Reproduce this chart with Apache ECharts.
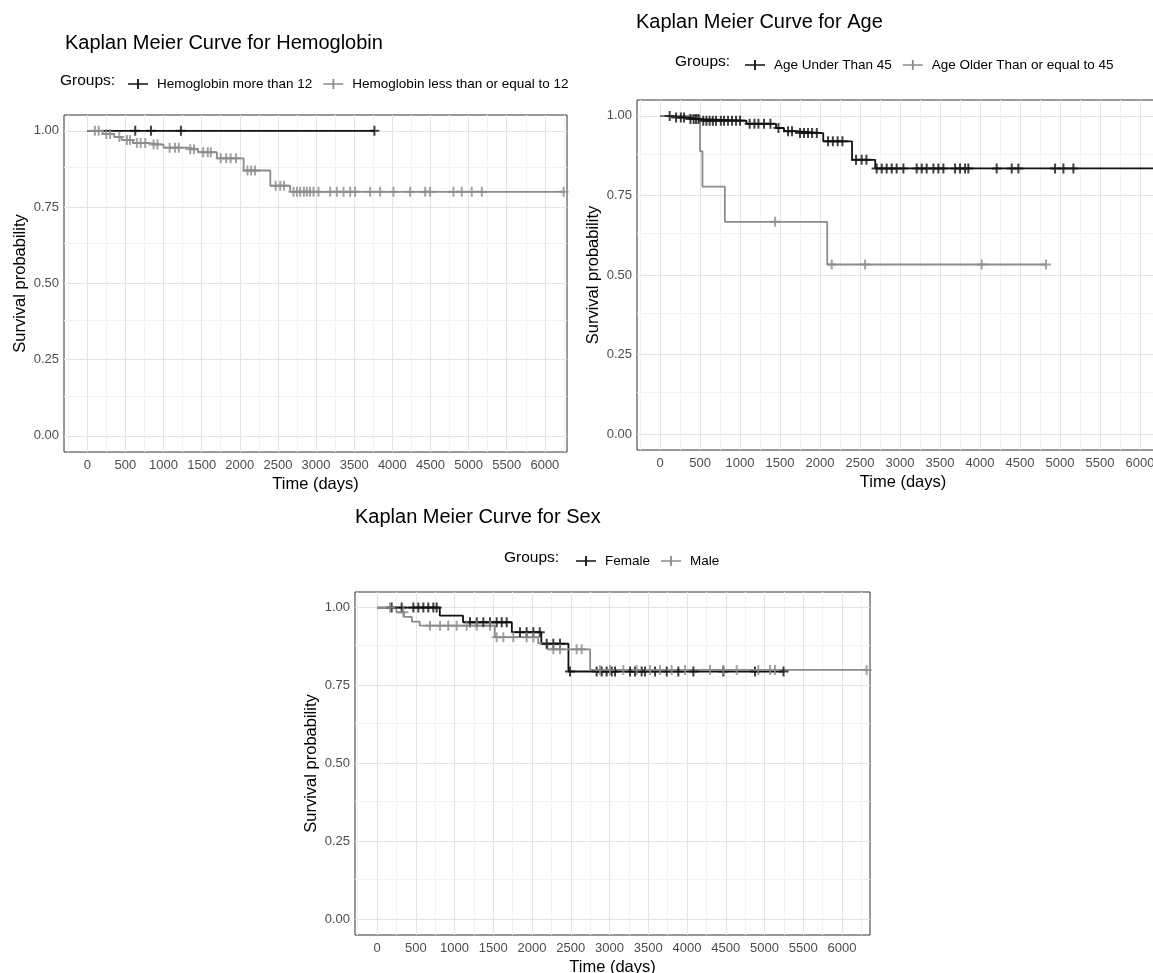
<!DOCTYPE html>
<html><head><meta charset="utf-8">
<script src="https://cdn.jsdelivr.net/npm/echarts@6/dist/echarts.min.js"></script>
<style>html,body{margin:0;padding:0;background:#fff}#c{width:1153px;height:973px}</style>
</head><body><div id="c"></div>
<script>
// ---- tick labels ----
const xTicks = [0,500,1000,1500,2000,2500,3000,3500,4000,4500,5000,5500,6000];
const xMinorTicks = [-250,250,750,1250,1750,2250,2750,3250,3750,4250,4750,5250,5750,6250];
const yTicks = [0,0.25,0.5,0.75,1];
const yMinorTicks = [0.125,0.375,0.625,0.875];

// ---- Hemoglobin ----
const hbHighName = 'Hemoglobin more than 12';
const hbHighTimes = [0];
const hbHighSurv = [1.0];
const hbHighEnd = 3765;
const hbHighCensor = [629, 835, 1228, 3765];

const hbLowName = 'Hemoglobin less than or equal to 12';
const hbLowTimes = [0, 200, 350, 450, 600, 800, 1000, 1300, 1450, 1700, 2050, 2400, 2660];
const hbLowSurv = [1.0, 0.99, 0.98, 0.97, 0.96, 0.955, 0.945, 0.94, 0.93, 0.91, 0.87, 0.82, 0.80];
const hbLowEnd = 6245;
const hbLowCensor = [100,150,250,300,420,520,560,650,700,760,870,920,1080,1150,1200,1350,1400,1520,1580,1620,1750,1820,1880,1950,2100,2150,2200,2470,2530,2580,2704,2750,2791,2840,2879,2920,2966,3032,3185,3272,3360,3447,3512,3709,3840,4015,4233,4430,4495,4801,4910,5041,5173,6245];

// ---- Age ----
const ageYoungName = 'Age Under Than 45';
const ageYoungTimes = [0, 150, 350, 500, 1080, 1450, 1550, 1700, 2040, 2400, 2690];
const ageYoungSurv = [1.0, 0.995, 0.99, 0.985, 0.975, 0.962, 0.952, 0.946, 0.92, 0.862, 0.835];
const ageYoungEnd = 6250;
const ageYoungCensor = [120,200,260,300,380,420,450,480,540,580,620,660,700,760,800,850,900,950,1000,1120,1180,1230,1300,1380,1480,1600,1650,1750,1800,1850,1900,1960,2100,2160,2220,2280,2450,2520,2580,2708,2771,2833,2896,2958,3042,3208,3271,3333,3417,3479,3542,3688,3750,3813,3854,4208,4396,4479,4938,5042,5167,6250];

const ageOldName = 'Age Older Than or equal to 45';
const ageOldTimes = [0, 500, 530, 810, 2090];
const ageOldSurv = [1.0, 0.889, 0.778, 0.667, 0.533];
const ageOldEnd = 4825;
const ageOldCensor = [1438, 2146, 2563, 4021, 4825];

// ---- Sex ----
const femaleName = 'Female';
const femaleTimes = [0, 810, 1110, 1740, 2120, 2470];
const femaleSurv = [1.0, 0.974, 0.953, 0.921, 0.884, 0.795];
const femaleEnd = 5245;
const femaleCensor = [189,318,469,533,598,662,727,770,1200,1286,1372,1458,1544,1609,1673,1845,1931,2017,2100,2189,2275,2361,2490,2834,2899,2963,3028,3071,3265,3329,3415,3458,3587,3738,3888,4082,4469,4877,5245];

const maleName = 'Male';
const maleTimes = [0, 250, 350, 450, 550, 1520, 2080, 2200, 2750];
const maleSurv = [1.0, 0.985, 0.97, 0.955, 0.942, 0.905, 0.885, 0.866, 0.80];
const maleEnd = 6318;
const maleCensor = [168,340,684,813,920,1028,1157,1286,1458,1544,1630,1759,1931,2017,2275,2361,2576,2641,2877,3006,3178,3350,3523,3652,3802,3974,4297,4469,4641,4920,5071,5135,6318];

// ---- styling ----
const FONT = 'Liberation Sans, Arial, sans-serif';
const BLACK = '#111111';
const GRAY = '#8c8c8c';
const PLUS = 'path://M-5,-1L-1,-1L-1,-5L1,-5L1,-1L5,-1L5,1L1,1L1,5L-1,5L-1,1L-5,1Z';
const KEY = 'path://M0,4.2L9.1,4.2L9.1,0L10.9,0L10.9,4.2L20,4.2L20,5.8L10.9,5.8L10.9,10L9.1,10L9.1,5.8L0,5.8Z';

const panels = [
  {grid:{left:64, top:115, width:503, height:337}, xMin:-305, xMax:6290, yMin:-0.053, yMax:1.052,
   title:'Kaplan Meier Curve for Hemoglobin', tx:65, ty:43, gx:60, gy:81, legendLeft:123,
   curves:[[hbHighName,hbHighTimes,hbHighSurv,hbHighEnd,hbHighCensor,BLACK],[hbLowName,hbLowTimes,hbLowSurv,hbLowEnd,hbLowCensor,GRAY]]},
  {grid:{left:637, top:100, width:532, height:350}, xMin:-288, xMax:6362, yMin:-0.05, yMax:1.05,
   title:'Kaplan Meier Curve for Age', tx:636, ty:22, gx:675, gy:62, legendLeft:740,
   curves:[[ageYoungName,ageYoungTimes,ageYoungSurv,ageYoungEnd,ageYoungCensor,BLACK],[ageOldName,ageOldTimes,ageOldSurv,ageOldEnd,ageOldCensor,GRAY]]},
  {grid:{left:355, top:592, width:515, height:343}, xMin:-284, xMax:6361, yMin:-0.05, yMax:1.05,
   title:'Kaplan Meier Curve for Sex', tx:355, ty:517, gx:504, gy:558, legendLeft:571,
   curves:[[femaleName,femaleTimes,femaleSurv,femaleEnd,femaleCensor,BLACK],[maleName,maleTimes,maleSurv,maleEnd,maleCensor,GRAY]]}
];

function survAt(times, surv, t){ let s = surv[0]; for(let i=0;i<times.length;i++){ if(times[i] <= t) s = surv[i]; } return s; }

const grids=[], xAxes=[], yAxes=[], series=[], legends=[], graphics=[];
panels.forEach((p,g)=>{
  grids.push(Object.assign({show:true, borderColor:'#333', borderWidth:1, backgroundColor:'#fff', outerBoundsMode:'none', containLabel:false}, p.grid));
  xAxes.push({gridIndex:g, type:'value', min:p.xMin, max:p.xMax,
    axisLine:{show:false}, splitLine:{show:false},
    axisTick:{show:true, customValues:xTicks, length:3, lineStyle:{color:'#333'}},
    axisLabel:{customValues:xTicks, color:'#4d4d4d', fontSize:13, fontFamily:FONT, margin:7, formatter:v=>String(v)},
    name:'Time (days)', nameLocation:'middle', nameGap:24, nameTextStyle:{color:'#000', fontSize:16.5, fontFamily:FONT}});
  yAxes.push({gridIndex:g, type:'value', min:p.yMin, max:p.yMax,
    axisLine:{show:false}, splitLine:{show:false},
    axisTick:{show:true, customValues:yTicks, length:3, lineStyle:{color:'#333'}},
    axisLabel:{customValues:yTicks, color:'#4d4d4d', fontSize:13, fontFamily:FONT, margin:5, formatter:v=>v.toFixed(2)},
    name:'Survival probability', nameLocation:'middle', nameGap:35, nameRotate:90, nameTextStyle:{color:'#000', fontSize:16.5, fontFamily:FONT}});
  // background grid lines
  const ml = [];
  xMinorTicks.forEach(v=>{ if(v>p.xMin && v<p.xMax) ml.push({xAxis:v, lineStyle:{color:'#f2f2f2', width:1, type:'solid'}}); });
  yMinorTicks.forEach(v=>ml.push({yAxis:v, lineStyle:{color:'#f2f2f2', width:1, type:'solid'}}));
  xTicks.forEach(v=>ml.push({xAxis:v, lineStyle:{color:'#e4e4e4', width:1, type:'solid'}}));
  yTicks.forEach(v=>ml.push({yAxis:v, lineStyle:{color:'#e4e4e4', width:1, type:'solid'}}));
  series.push({type:'line', xAxisIndex:g, yAxisIndex:g, data:[[p.xMin, p.yMin]], symbol:'none', lineStyle:{opacity:0}, silent:true, z:1,
    markLine:{silent:true, symbol:['none','none'], label:{show:false}, animation:false, z:1, data:ml}});
  p.curves.forEach(([name,times,surv,end,cens,color])=>{
    const d = times.map((t,i)=>[t, surv[i]]);
    d.push([end, surv[surv.length-1]]);
    series.push({type:'line', name, xAxisIndex:g, yAxisIndex:g, data:d, step:'end', symbol:'none', showSymbol:false,
      lineStyle:{color, width:1.8}, itemStyle:{color}, z:3, animation:false});
    series.push({type:'scatter', name, xAxisIndex:g, yAxisIndex:g, data:cens.map(t=>[t, survAt(times,surv,t)]),
      symbol:PLUS, symbolSize:10, itemStyle:{color}, z:4, animation:false});
  });
  legends.push({left:p.legendLeft, top:p.gy-9, orient:'horizontal', itemWidth:20, itemHeight:10, itemGap:11, icon:KEY,
    data:p.curves.map(c=>c[0]), selectedMode:false, textStyle:{color:'#000', fontSize:13.5, fontFamily:FONT, padding:[0,0,0,4]}});
  graphics.push({type:'text', x:p.tx, y:p.ty, style:{text:p.title, font:'20px '+FONT, fill:'#000', verticalAlign:'middle', textVerticalAlign:'middle'}});
  graphics.push({type:'text', x:p.gx, y:p.gy, style:{text:'Groups:', font:'15.5px '+FONT, fill:'#000', verticalAlign:'middle', textVerticalAlign:'middle'}});
});

const chart = echarts.init(document.getElementById('c'), null, {renderer:'canvas'});
chart.setOption({animation:false, backgroundColor:'#fff', grid:grids, xAxis:xAxes, yAxis:yAxes, series, legend:legends, graphic:graphics});
</script>
</body></html>
